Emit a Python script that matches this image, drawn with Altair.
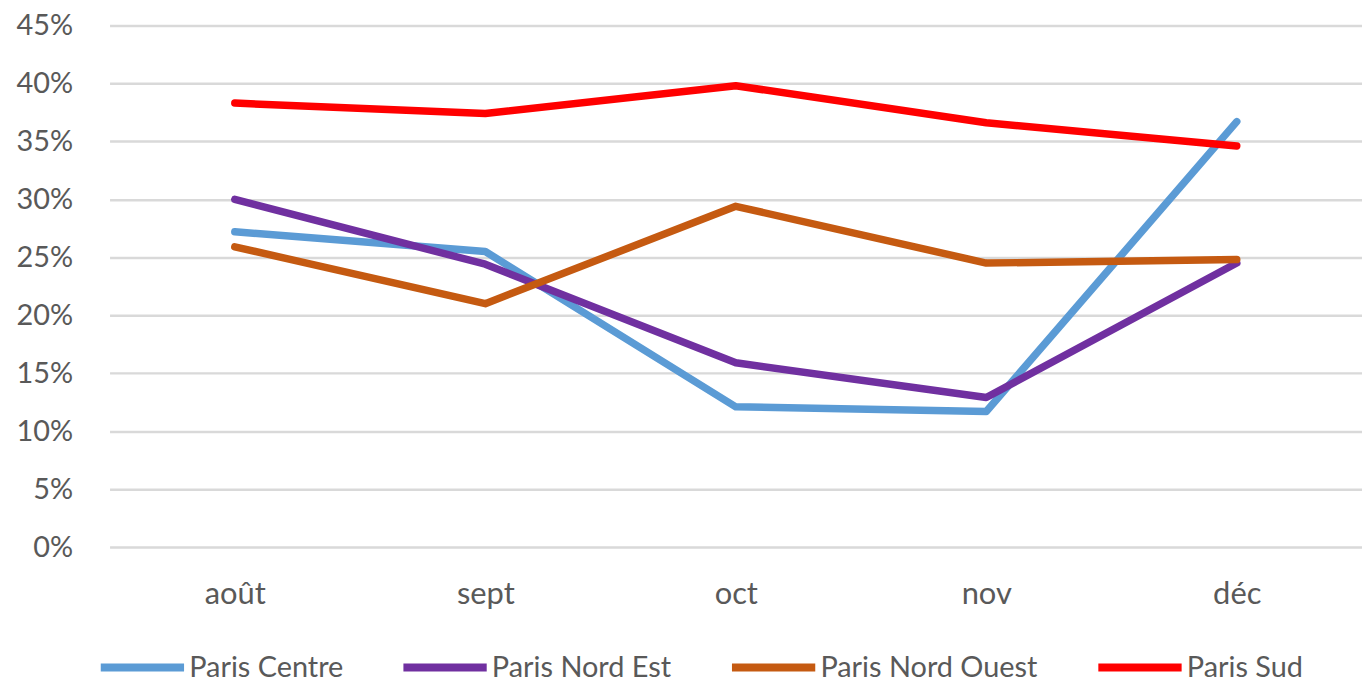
import altair as alt
import pandas as pd

months = ["août", "sept", "oct", "nov", "déc"]
series = ["Paris Centre", "Paris Nord Est", "Paris Nord Ouest", "Paris Sud"]
colors = ["#5B9BD5", "#7030A0", "#C55A11", "#FF0000"]

paris_centre = [0.272, 0.255, 0.121, 0.117, 0.367]
paris_nord_est = [0.300, 0.244, 0.159, 0.129, 0.245]
paris_nord_ouest = [0.259, 0.210, 0.294, 0.245, 0.248]
paris_sud = [0.383, 0.374, 0.398, 0.366, 0.346]
y_ticks = [0, 0.05, 0.10, 0.15, 0.20, 0.25, 0.30, 0.35, 0.40, 0.45]

rows = []
for name, vals in zip(series, [paris_centre, paris_nord_est, paris_nord_ouest, paris_sud]):
    for m, v in zip(months, vals):
        rows.append({"mois": m, "serie": name, "valeur": v})
df = pd.DataFrame(rows)

FONT = "Lato"
TXT = "#595959"

chart = alt.Chart(df).mark_line(strokeWidth=7.5, strokeCap="round", strokeJoin="round").encode(
    x=alt.X("mois:N", sort=months, title=None,
            scale=alt.Scale(type="point", padding=0.5),
            axis=alt.Axis(labelAngle=0, ticks=False, tickSize=0, domain=False, grid=False,
                          labelFont=FONT, labelFontSize=31, labelColor=TXT,
                          labelPadding=48, labelBaseline="middle")),
    y=alt.Y("valeur:Q", title=None,
            scale=alt.Scale(domain=[0, 0.45], nice=False),
            axis=alt.Axis(values=y_ticks, format=".0%", ticks=False, tickSize=0, domain=False,
                          grid=True, gridColor="#D9D9D9", gridWidth=2.5,
                          labelFont=FONT, labelFontSize=29, labelColor=TXT,
                          labelPadding=37)),
    color=alt.Color("serie:N", sort=series,
                    scale=alt.Scale(domain=series, range=colors),
                    legend=alt.Legend(title=None, orient="none", direction="horizontal",
                                      legendX=-13, legendY=599,
                                      symbolType="stroke", symbolSize=7000,
                                      symbolStrokeWidth=8, labelOffset=1,
                                      columnPadding=44, padding=0, labelLimit=500,
                                      labelFont=FONT, labelFontSize=29, labelColor=TXT)),
).properties(
    width=1258,
    height=524,
    autosize=alt.AutoSizeParams(type="none"),
    padding={"left": 102, "top": 16, "right": 0, "bottom": 135},
).configure_view(stroke=None)

chart.save("out.html", embed_options={"renderer": "svg", "actions": False})
